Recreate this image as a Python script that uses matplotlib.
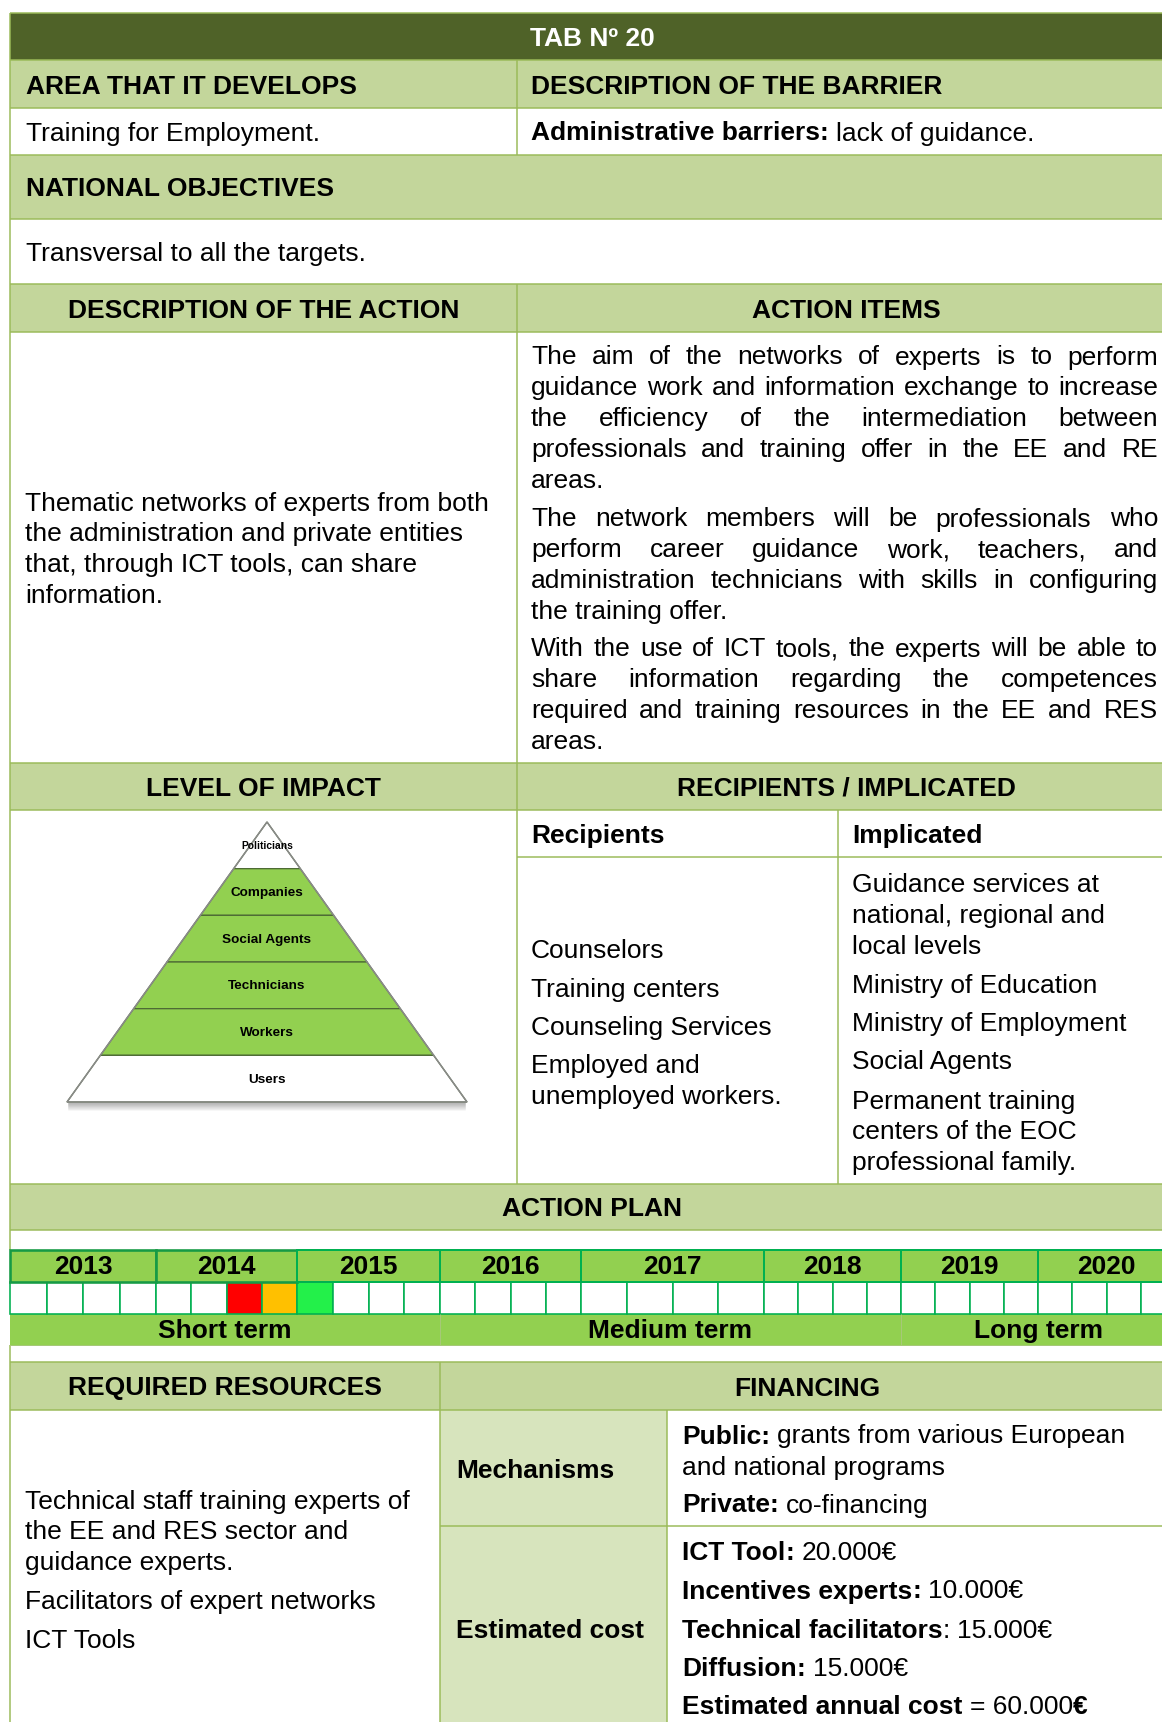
import matplotlib
matplotlib.use("Agg")
import matplotlib.pyplot as plt
from matplotlib.patches import Rectangle, Polygon

plt.rcParams['font.family'] = ['Liberation Sans', 'DejaVu Sans']

W, H = 1162, 1722
FS = 19          # body text, points (~26 px at 100 dpi)
LEAD = 30.6      # line step for wrapped cell text, px
Y_SHIFT = 1.5    # nudge text down onto the reference baselines

DARK = "#4F6228"
HEAD = "#C3D69B"
LABEL = "#D7E4BD"
LINE = "#9BBB59"
TL_FILL = "#92D050"
TL_LINE = "#00B050"

# ---- table content ----
TITLE = "TAB Nº 20"
AREA = "Training for Employment."
BARRIER = [("Administrative barriers:", True), (" lack of guidance.", False)]
OBJECTIVES = "Transversal to all the targets."

ACTION_DESC = [
    "Thematic networks of experts from both",
    "the administration and private entities",
    "that, through ICT tools, can share",
    "information.",
]

ACTION_ITEMS = [
    ["The aim of the networks of experts is to perform",
     "guidance work and information exchange to increase",
     "the efficiency of the intermediation between",
     "professionals and training offer in the EE and RE",
     "areas."],
    ["The network members will be professionals who",
     "perform career guidance work, teachers, and",
     "administration technicians with skills in configuring",
     "the training offer."],
    ["With the use of ICT tools, the experts will be able to",
     "share information regarding the competences",
     "required and training resources in the EE and RES",
     "areas."],
]

PYRAMID_LEVELS = ["Politicians", "Companies", "Social Agents",
                  "Technicians", "Workers", "Users"]
PYRAMID_GREEN = [False, True, True, True, True, False]

RECIPIENTS = ["Counselors", "Training centers", "Counseling Services",
              "Employed and\nunemployed workers."]
IMPLICATED = ["Guidance services at\nnational, regional and\nlocal levels",
              "Ministry of Education", "Ministry of Employment",
              "Social Agents",
              "Permanent training\ncenters of the EOC\nprofessional family."]

YEARS = [2013, 2014, 2015, 2016, 2017, 2018, 2019, 2020]
QUARTER_MARKS = {(2014, 3): "#FF0000", (2014, 4): "#FFC000", (2015, 1): "#23F04A"}
TERMS = [("Short term", 2013, 2015), ("Medium term", 2016, 2018),
         ("Long term", 2019, 2020)]

RESOURCES = ["Technical staff training experts of\nthe EE and RES sector and\nguidance experts.",
             "Facilitators of expert networks", "ICT Tools"]

MECHANISMS = [
    [("Public:", True), (" grants from various European", False)],
    [("and national programs", False)],
    [("Private:", True), (" co-financing", False)],
]
COST_ITEMS = ["ICT Tool", "Incentives experts", "Technical facilitators", "Diffusion"]
COST_VALUES = [20000, 10000, 15000, 15000]
COST_COLON_BOLD = [True, True, False, True]

# ---- layout (pixels) ----
L, R = 10, 1175
COL = 517
YEAR_EDGES = [10, 156, 297, 440, 581, 764, 901, 1038, 1175]

fig = plt.figure(figsize=(W / 100, H / 100), dpi=100)
ax = fig.add_axes([0, 0, 1, 1])
ax.set_xlim(0, W)
ax.set_ylim(H, 0)
ax.axis('off')
renderer = fig.canvas.get_renderer()


def px(w):
    return w * 0.72


def box(x0, y0, x1, y1, fc, ec='none', lw=0, z=1):
    ax.add_patch(Rectangle((x0, y0), x1 - x0, y1 - y0, facecolor=fc,
                           edgecolor=ec, linewidth=px(lw), zorder=z))


def hline(y, x0=L, x1=R, color=LINE, lw=1.5):
    ax.plot([x0, x1], [y, y], color=color, lw=px(lw), zorder=3,
            solid_capstyle='butt')


def vline(x, y0, y1, color=LINE, lw=1.5):
    ax.plot([x, x], [y0, y1], color=color, lw=px(lw), zorder=3,
            solid_capstyle='butt')


def txt(x, y, s, bold=False, ha='left', size=FS, color='black'):
    return ax.text(x, y + Y_SHIFT, s, ha=ha, va='center', fontsize=size,
                   color=color, fontweight='bold' if bold else 'normal',
                   zorder=5)


def lines(x, y, s):
    # wrapped cell text: first line centred on y, then fixed leading
    for i, part in enumerate(s.split("\n")):
        txt(x, y + i * LEAD, part)


def width(s, bold=False, size=FS):
    t = txt(0, -100, s, bold=bold, size=size)
    w = t.get_window_extent(renderer).width
    t.remove()
    return w


def space_w(bold=False):
    return width("x x", bold) - width("xx", bold)


def runs(x, y, parts):
    for s, bold in parts:
        if s.startswith(" "):
            x += space_w(bold)
            s = s[1:]
        txt(x, y, s, bold=bold)
        x += width(s, bold)


def justified(line, y, x0, x1, last=False):
    words = line.split()
    if last or len(words) == 1:
        txt(x0, y, line)
        return
    ws = [width(w) for w in words]
    gap = (x1 - x0 - sum(ws)) / (len(words) - 1)
    x = x0
    for w, wd in zip(words, ws):
        txt(x, y, w)
        x += wd + gap


# ---- fills ----
box(L, 13, R, 60, DARK)
box(L, 60, R, 108, HEAD)
box(L, 155, R, 219, HEAD)
box(L, 284, R, 332, HEAD)
box(L, 763, R, 810, HEAD)
box(L, 1184, R, 1230, HEAD)
box(L, 1362, R, 1410, HEAD)
box(440, 1410, 667, 1722, LABEL)

# ---- grid lines ----
for y in [13, 60, 108, 155, 219, 284, 332, 763, 810, 1184, 1230, 1362, 1410]:
    hline(y)
hline(857, COL, R)
hline(1526, 440, R)
vline(L, 13, 1250)
vline(L, 1345, 1722)
vline(COL, 60, 155)
vline(COL, 284, 1184)
vline(838, 810, 1184)
vline(440, 1362, 1722)
vline(667, 1410, 1722)

# ---- header texts ----
txt((L + R) / 2, 37, TITLE, bold=True, ha='center', color='white')
txt(26, 85, "AREA THAT IT DEVELOPS", bold=True)
txt(531, 85, "DESCRIPTION OF THE BARRIER", bold=True)
txt(26, 132, AREA)
runs(531, 132, BARRIER)
txt(26, 188, "NATIONAL OBJECTIVES", bold=True)
txt(26, 252, OBJECTIVES)
txt((L + COL) / 2, 309, "DESCRIPTION OF THE ACTION", bold=True, ha='center')
txt((COL + R) / 2, 309, "ACTION ITEMS", bold=True, ha='center')

for i, line in enumerate(ACTION_DESC):
    txt(25, 502 + i * 30.7, line)

para_tops = [356, 518, 648]
for top, para in zip(para_tops, ACTION_ITEMS):
    for i, line in enumerate(para):
        justified(line, top + i * 30.8, 531, 1158, last=(i == len(para) - 1))

txt((L + COL) / 2, 787, "LEVEL OF IMPACT", bold=True, ha='center')
txt((COL + R) / 2, 787, "RECIPIENTS / IMPLICATED", bold=True, ha='center')

# ---- pyramid ----
apex_x, apex_y, base_y, half = 267, 822, 1102, 200
band = (base_y - apex_y) / len(PYRAMID_LEVELS)
for k in range(8):
    ax.plot([apex_x - half + 2, apex_x + half - 2],
            [base_y + 1 + k, base_y + 1 + k], color='#505050',
            alpha=0.32 - k * 0.038, lw=px(1.5), zorder=2)
for i, (name, green) in enumerate(zip(PYRAMID_LEVELS, PYRAMID_GREEN)):
    y0 = apex_y + i * band
    y1 = y0 + band
    h0 = half * (y0 - apex_y) / (base_y - apex_y)
    h1 = half * (y1 - apex_y) / (base_y - apex_y)
    poly = [(apex_x - h0, y0), (apex_x + h0, y0), (apex_x + h1, y1), (apex_x - h1, y1)]
    ax.add_patch(Polygon(poly, closed=True, facecolor=TL_FILL if green else 'white',
                         edgecolor='#4E6B35', linewidth=px(1.3), zorder=3))
    size = 7.4 if i == 0 else 9.7
    ty = y0 + band / 2 - 0.5
    txt(apex_x, ty, name, bold=True, ha='center', size=size)
ax.add_patch(Polygon([(apex_x, apex_y), (apex_x + half, base_y), (apex_x - half, base_y)],
                     closed=True, facecolor='none', edgecolor='#8A8A8A',
                     linewidth=px(1.5), zorder=4))

# ---- recipients / implicated ----
txt(531, 834, "Recipients", bold=True)
txt(852, 834, "Implicated", bold=True)
rec_y = [949, 988, 1026, 1065]
for y, s in zip(rec_y, RECIPIENTS):
    lines(531, y, s)
imp_y = [884, 984, 1023, 1061, 1100]
for y, s in zip(imp_y, IMPLICATED):
    lines(852, y, s)

txt((L + R) / 2, 1208, "ACTION PLAN", bold=True, ha='center')

# ---- timeline ----
ty0, ty1, ty2, ty3 = 1250, 1282, 1314, 1345
box(L, ty2, R, ty3, TL_FILL, z=1)
for i, year in enumerate(YEARS):
    x0, x1 = YEAR_EDGES[i], YEAR_EDGES[i + 1]
    qw = (x1 - x0) / 4
    for q in range(4):
        fc = QUARTER_MARKS.get((year, q + 1), 'white')
        box(x0 + q * qw, ty1, x0 + (q + 1) * qw, ty2, fc, TL_LINE, 1.6, z=2)
    strong = year <= 2014
    box(x0, ty0, x1, ty1, TL_FILL, '#169A45' if strong else TL_LINE,
        2.6 if strong else 2.0, z=3)
    txt((x0 + x1) / 2, (ty0 + ty1) / 2, str(year), bold=True, ha='center')
for name, first, last in TERMS:
    x0 = YEAR_EDGES[YEARS.index(first)]
    x1 = YEAR_EDGES[YEARS.index(last) + 1]
    if x0 > L:
        vline(x0, ty2, ty3, color='#A6C878', lw=1.0)
    txt((x0 + x1) / 2, (ty2 + ty3) / 2, name, bold=True, ha='center')
hline(ty3, L, R, color='#A6C878', lw=1.0)

# ---- resources / financing ----
txt((L + 440) / 2, 1387, "REQUIRED RESOURCES", bold=True, ha='center')
txt((440 + R) / 2, 1387, "FINANCING", bold=True, ha='center')
res_y = [1500, 1601, 1640]
for y, s in zip(res_y, RESOURCES):
    lines(25, y, s)

txt(456, 1469, "Mechanisms", bold=True)
txt(456, 1629, "Estimated cost", bold=True)
mech_y = [1435, 1466, 1504]
for y, parts in zip(mech_y, MECHANISMS):
    runs(682, y, parts)


def euro(v):
    return f"{v:,}".replace(",", ".")


cost_y = [1552, 1590, 1629, 1667]
for y, name, v, cb in zip(cost_y, COST_ITEMS, COST_VALUES, COST_COLON_BOLD):
    runs(682, y, [(name, True), (":", cb), (" " + euro(v) + "€", False)])
runs(682, 1705, [("Estimated annual cost", True),
                 (" = " + euro(sum(COST_VALUES)), False), ("€", True)])

fig.savefig("out.png", dpi=100)
